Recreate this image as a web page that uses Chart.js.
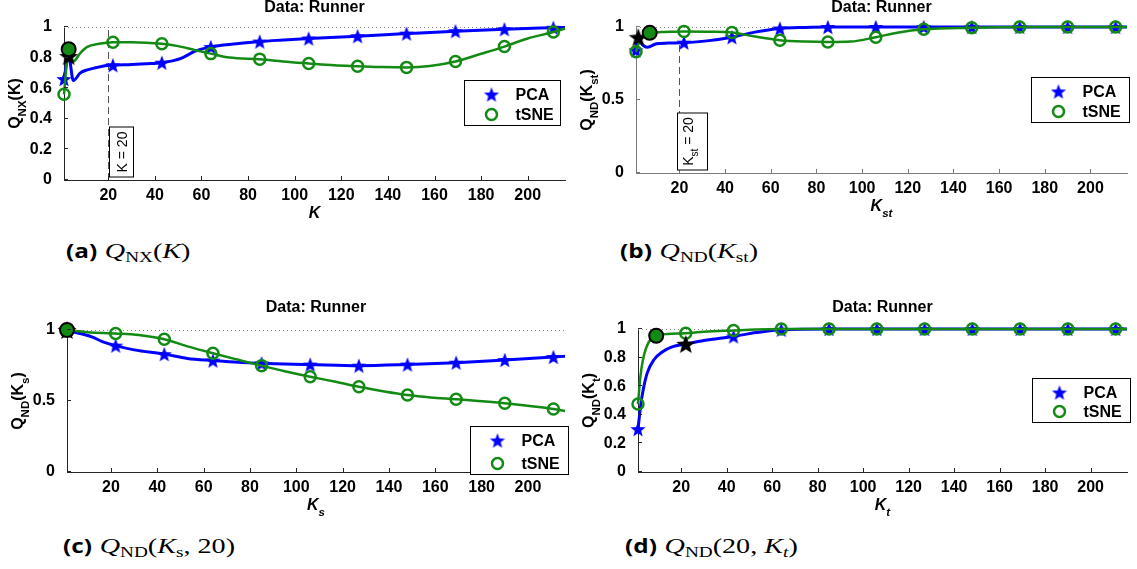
<!DOCTYPE html>
<html>
<head>
<meta charset="utf-8">
<script src="https://cdn.jsdelivr.net/npm/chart.js@4.4.1/dist/chart.umd.min.js"></script>
<style>
  body { margin: 0; width: 1137px; height: 569px; background: #fff; position: relative; overflow: hidden; }
  .panel { position: absolute; }
  .cap { position: absolute; font-family: 'Liberation Serif', serif; font-size: 22px; white-space: nowrap; color: #000;
         transform: scaleX(1.28); transform-origin: left center; }
  .cap b { font-family: 'Open Sans', 'DejaVu Sans', sans-serif; font-weight: 700; font-size: 19px; margin-right: 6px; }
  .cap sub { font-size: 15px; vertical-align: -4px; }
</style>
</head>
<body>
<div class="panel" style="left:0;top:0;width:575px;height:225px"><canvas id="ca"></canvas></div>
<div class="panel" style="left:575px;top:0;width:562px;height:225px"><canvas id="cb"></canvas></div>
<div class="panel" style="left:0;top:300px;width:575px;height:225px"><canvas id="cc"></canvas></div>
<div class="panel" style="left:575px;top:300px;width:562px;height:225px"><canvas id="cd"></canvas></div>

<div class="cap" style="left:66px;top:238px"><b>(a)</b><i>Q</i><sub>NX</sub>(<i>K</i>)</div>
<div class="cap" style="left:620px;top:238px"><b>(b)</b><i>Q</i><sub>ND</sub>(<i>K</i><sub>st</sub>)</div>
<div class="cap" style="left:63px;top:533px"><b>(c)</b><i>Q</i><sub>ND</sub>(<i>K</i><sub>s</sub>, 20)</div>
<div class="cap" style="left:625px;top:533px"><b>(d)</b><i>Q</i><sub>ND</sub>(20, <i>K<sub>t</sub></i>)</div>

<script>
// ─── Data ─────────────────────────────────────────────

const MARK_K   = [1, 22, 43, 64, 85, 106, 127, 148, 169, 190, 211];
const X_TICKS  = [20, 40, 60, 80, 100, 120, 140, 160, 180, 200];
const Y_FINE   = [0, 0.2, 0.4, 0.6, 0.8, 1];
const Y_HALF   = [0, 0.5, 1];
const K_RANGE  = [1, 216];

// (a) Q_NX(K)
const A_PCA_K  = [1, 3, 5, 8, 11, 15, 18, 22, 30, 36, 43, 48, 52, 57, 64, 75, 85, 95, 106, 127, 148, 169, 190, 211, 216];
const A_PCA_Q  = [0.66, 0.81, 0.65, 0.70, 0.72, 0.735, 0.745, 0.75, 0.755, 0.76, 0.767, 0.78, 0.80, 0.84, 0.87, 0.89, 0.905, 0.915, 0.925, 0.94, 0.957, 0.973, 0.986, 0.995, 0.997];
const A_TSNE_K = [1, 3, 5, 8, 11, 16, 22, 30, 43, 50, 57, 64, 72, 85, 95, 106, 117, 127, 138, 148, 158, 169, 180, 190, 200, 211, 216];
const A_TSNE_Q = [0.56, 0.855, 0.775, 0.83, 0.87, 0.89, 0.90, 0.90, 0.89, 0.875, 0.85, 0.826, 0.80, 0.79, 0.775, 0.762, 0.75, 0.744, 0.738, 0.736, 0.745, 0.775, 0.825, 0.872, 0.925, 0.967, 0.99];
const A_BEST_PCA  = [3, 0.81];
const A_BEST_TSNE = [3, 0.855];

// (b) Q_ND(K_st)
const B_PCA_K  = [1, 2, 3, 6, 10, 15, 22, 32, 43, 53, 64, 75, 85, 106, 127, 148, 169, 190, 211, 216];
const B_PCA_Q  = [0.84, 0.93, 0.895, 0.862, 0.885, 0.89, 0.893, 0.905, 0.93, 0.965, 0.99, 0.997, 1, 1, 1, 1, 1, 1, 1, 1];
const B_TSNE_K = [1, 2, 4, 7, 12, 22, 32, 43, 53, 64, 75, 85, 95, 106, 116, 127, 148, 169, 190, 211, 216];
const B_TSNE_Q = [0.83, 0.88, 0.93, 0.96, 0.965, 0.97, 0.968, 0.962, 0.935, 0.91, 0.90, 0.897, 0.90, 0.93, 0.963, 0.984, 0.995, 1, 1, 1, 1];
const B_BEST_PCA  = [2, 0.93];
const B_BEST_TSNE = [7, 0.96];

// (c) Q_ND(K_s, 20)
const C_PCA_K  = [1, 4, 8, 12, 16, 22, 30, 43, 53, 64, 75, 85, 106, 127, 148, 169, 190, 211, 216];
const C_PCA_Q  = [1.0, 0.985, 0.97, 0.95, 0.92, 0.89, 0.86, 0.83, 0.80, 0.785, 0.772, 0.765, 0.757, 0.749, 0.757, 0.77, 0.789, 0.81, 0.815];
const C_TSNE_K = [1, 10, 22, 32, 43, 53, 64, 75, 85, 95, 106, 117, 127, 138, 148, 158, 169, 190, 211, 216];
const C_TSNE_Q = [1.0, 0.985, 0.976, 0.965, 0.935, 0.885, 0.836, 0.79, 0.749, 0.71, 0.671, 0.635, 0.60, 0.567, 0.542, 0.525, 0.512, 0.484, 0.444, 0.43];
const C_BEST_PCA  = [1, 1.0];
const C_BEST_TSNE = [1, 1.0];

// (d) Q_ND(20, K_t)
const D_PCA_K  = [1, 2, 3, 5, 8, 12, 16, 22, 30, 43, 53, 64, 85, 106, 127, 148, 169, 190, 211, 216];
const D_PCA_Q  = [0.30, 0.44, 0.55, 0.69, 0.785, 0.843, 0.875, 0.895, 0.92, 0.948, 0.975, 0.995, 1, 1, 1, 1, 1, 1, 1, 1];
const D_TSNE_K = [1, 2, 3, 5, 9, 14, 22, 30, 43, 53, 64, 85, 106, 127, 148, 169, 190, 211, 216];
const D_TSNE_Q = [0.475, 0.66, 0.77, 0.885, 0.953, 0.965, 0.97, 0.98, 0.99, 0.997, 1, 1, 1, 1, 1, 1, 1, 1, 1];
const D_BEST_PCA  = [22, 0.895];
const D_BEST_TSNE = [9, 0.953];

// ─── Styles ───────────────────────────────────────────

const BLUE  = '#0000ff';
const GREEN = '#138a13';
const FONT  = "'Liberation Sans', Arial, Helvetica, sans-serif";

function starImage(color, r) {
  const c = document.createElement('canvas');
  const s = Math.ceil(r * 2 + 2);
  c.width = c.height = s;
  const g = c.getContext('2d');
  g.translate(s / 2, s / 2 + r * 0.1);
  g.beginPath();
  for (let i = 0; i < 10; i++) {
    const rad = i % 2 ? r * 0.42 : r;
    const a = -Math.PI / 2 + i * Math.PI / 5;
    g.lineTo(rad * Math.cos(a), rad * Math.sin(a));
  }
  g.closePath();
  g.fillStyle = color;
  g.fill();
  return c;
}
const STAR_BLUE  = starImage(BLUE, 8);
const STAR_BLACK = starImage('#000', 10);

const pts = (ks, qs) => ks.map((k, i) => ({ x: k, y: qs[i] }));

// ─── Rich text (subscripts) ───────────────────────────

function drawRich(ctx, parts, x, y, size, style) {
  const f = s => `${style} ${s}px ${FONT}`;
  let w = 0;
  parts.forEach(([t, sub]) => { ctx.font = f(sub ? size * 0.72 : size); w += ctx.measureText(t).width; });
  let cx = x - w / 2;
  parts.forEach(([t, sub]) => {
    ctx.font = f(sub ? size * 0.72 : size);
    ctx.fillText(t, cx, y + (sub ? size * 0.36 : 0));
    cx += ctx.measureText(t).width;
  });
}

// ─── Decoration plugin ────────────────────────────────

const decor = {
  id: 'decor',
  beforeDatasetsDraw(chart, args, o) {
    const { ctx, chartArea: a, scales: { x, y } } = chart;
    ctx.save();
    ctx.strokeStyle = '#8a8a8a';
    ctx.lineWidth = 1;
    ctx.setLineDash([1, 3]);
    const y1 = Math.round(y.getPixelForValue(1)) + 0.5;
    ctx.beginPath(); ctx.moveTo(a.left, y1); ctx.lineTo(a.right, y1); ctx.stroke();
    if (o.ref) {
      const px = Math.round(x.getPixelForValue(o.ref.k)) + 0.5;
      ctx.strokeStyle = '#555';
      ctx.setLineDash([7, 4]);
      ctx.beginPath();
      ctx.moveTo(px, y.getPixelForValue(0));
      ctx.lineTo(px, y.getPixelForValue(o.ref.top));
      ctx.stroke();
    }
    ctx.restore();
  },
  afterDraw(chart, args, o) {
    const { ctx, chartArea: a, scales: { x, y } } = chart;
    ctx.save();
    // inward tick marks
    ctx.strokeStyle = o.axisColor;
    ctx.lineWidth = 1;
    ctx.beginPath();
    x.ticks.forEach(t => {
      const px = Math.round(x.getPixelForValue(t.value)) + 0.5;
      ctx.moveTo(px, a.bottom); ctx.lineTo(px, a.bottom - 4);
    });
    y.ticks.forEach(t => {
      const py = Math.round(y.getPixelForValue(t.value)) - 0.5;
      ctx.moveTo(a.left, py); ctx.lineTo(a.left + 4, py);
    });
    ctx.stroke();

    ctx.fillStyle = '#000';
    ctx.textAlign = 'left';
    ctx.textBaseline = 'alphabetic';
    // x title
    drawRich(ctx, o.xLabel, (a.left + a.right) / 2, a.bottom + 38, 16, 'italic bold');
    // y title
    ctx.save();
    ctx.translate(a.left - 44, (a.top + a.bottom) / 2);
    ctx.rotate(-Math.PI / 2);
    drawRich(ctx, o.yLabel, 0, 0, 16, 'bold');
    ctx.restore();

    // K = 20 box
    if (o.ref) {
      const bx = Math.round(x.getPixelForValue(o.ref.k)) + 0.5 + o.ref.dx;
      const bb = a.bottom - 3;
      ctx.fillStyle = '#fff';
      ctx.strokeStyle = '#000';
      ctx.fillRect(bx, bb - o.ref.h, o.ref.w, o.ref.h);
      ctx.strokeRect(bx, bb - o.ref.h, o.ref.w, o.ref.h);
      ctx.save();
      ctx.translate(bx + o.ref.base, bb - o.ref.h / 2);
      ctx.rotate(-Math.PI / 2);
      ctx.fillStyle = '#000';
      drawRich(ctx, o.ref.text, 0, 0, 14, 'normal');
      ctx.restore();
    }

    // legend
    const L = o.legend;
    const lx = Math.round(a.right + L.dx - L.w) + 0.5;
    const ly = Math.round(a.top + L.dy) + 0.5;
    ctx.fillStyle = '#fff';
    ctx.fillRect(lx, ly, L.w, L.h);
    ctx.strokeStyle = '#000';
    ctx.lineWidth = 1;
    ctx.strokeRect(lx, ly, L.w, L.h);
    const r1 = ly + 14, r2 = ly + L.h - 11;
    ctx.drawImage(STAR_BLUE, lx + 27 - STAR_BLUE.width / 2, r1 - STAR_BLUE.height / 2);
    ctx.beginPath();
    ctx.arc(lx + 27, r2, 5.5, 0, Math.PI * 2);
    ctx.strokeStyle = GREEN;
    ctx.lineWidth = 2.5;
    ctx.stroke();
    ctx.fillStyle = '#000';
    ctx.font = `bold 16px ${FONT}`;
    ctx.textBaseline = 'middle';
    ctx.fillText('PCA', lx + 51, r1 + 1);
    ctx.fillText('tSNE', lx + 51, r2 + 1);
    ctx.restore();
  }
};

// ─── Panel builder ────────────────────────────────────

function panel(id, cfg) {
  const tickFont = { family: FONT, size: 16, weight: 'bold', lineHeight: 1 };
  new Chart(document.getElementById(id), {
    type: 'line',
    data: {
      datasets: [
        { data: [{ x: cfg.bestTsne[0], y: cfg.bestTsne[1] }], showLine: false, pointStyle: 'circle',
          pointRadius: 7, pointBorderWidth: 2, pointBorderColor: '#000', pointBackgroundColor: GREEN, clip: false },
        { data: [{ x: cfg.bestPca[0], y: cfg.bestPca[1] }], showLine: false, pointStyle: STAR_BLACK,
          pointRadius: 9, clip: false },
        { data: pts(cfg.tsneK, cfg.tsneQ), borderColor: GREEN, borderWidth: 2.5,
          cubicInterpolationMode: 'monotone', pointStyle: 'circle',
          pointRadius: c => MARK_K.includes(c.raw.x) ? 5.5 : 0,
          pointBorderWidth: 2.5, pointBorderColor: GREEN, pointBackgroundColor: 'rgba(0,0,0,0)', clip: false },
        { data: pts(cfg.pcaK, cfg.pcaQ), borderColor: BLUE, borderWidth: 3,
          cubicInterpolationMode: 'monotone', pointStyle: STAR_BLUE,
          pointRadius: c => MARK_K.includes(c.raw.x) ? 7 : 0, clip: false },
      ],
    },
    options: {
      responsive: true,
      maintainAspectRatio: false,
      animation: false,
      events: [],
      layout: { padding: { left: 0, right: cfg.padR, top: 0, bottom: 0 } },
      scales: {
        x: {
          type: 'linear', min: K_RANGE[0], max: K_RANGE[1],
          afterBuildTicks: s => { s.ticks = X_TICKS.map(v => ({ value: v })); },
          afterFit: s => { s.height = cfg.xH; },
          grid: { display: false },
          border: { display: true, color: cfg.axisColor, width: 1 },
          ticks: { font: tickFont, color: '#000', padding: 0, maxRotation: 0, autoSkip: false },
        },
        y: {
          type: 'linear', min: 0, max: 1,
          afterBuildTicks: s => { s.ticks = cfg.yTicks.map(v => ({ value: v })); },
          afterFit: s => { s.width = cfg.yW; },
          grid: { display: false },
          border: { display: true, color: cfg.axisColor, width: 1 },
          ticks: { font: tickFont, color: '#000', padding: 4, callback: v => String(v) },
        },
      },
      plugins: {
        legend: { display: false },
        tooltip: { enabled: false },
        title: {
          display: true, text: 'Data: Runner', fullSize: false, color: '#000',
          font: { family: FONT, size: 16, weight: 'bold', lineHeight: 1 },
          padding: { top: 0, bottom: cfg.titlePad },
        },
        decor: {
          axisColor: cfg.axisColor, xLabel: cfg.xLabel, yLabel: cfg.yLabel,
          legend: cfg.legend, ref: cfg.ref,
        },
      },
    },
    plugins: [decor],
  });
}

panel('ca', {
  pcaK: A_PCA_K, pcaQ: A_PCA_Q, tsneK: A_TSNE_K, tsneQ: A_TSNE_Q,
  bestPca: A_BEST_PCA, bestTsne: A_BEST_TSNE, yTicks: Y_FINE,
  yW: 64, padR: 8, xH: 45, titlePad: 11, axisColor: '#262626',
  xLabel: [['K']], yLabel: [['Q'], ['NX', 1], ['(K)']],
  legend: { dx: -5, dy: 53, w: 96, h: 45 },
  ref: { k: 20, top: 1, dx: 1, w: 24, h: 50, base: 17, text: [['K = 20']] },
});
panel('cb', {
  pcaK: B_PCA_K, pcaQ: B_PCA_Q, tsneK: B_TSNE_K, tsneQ: B_TSNE_Q,
  bestPca: B_BEST_PCA, bestTsne: B_BEST_TSNE, yTicks: Y_HALF,
  yW: 61, padR: 3, xH: 52, titlePad: 11, axisColor: '#7a7a7a',
  xLabel: [['K'], ['st', 1]], yLabel: [['Q'], ['ND', 1], ['(K'], ['st', 1], [')']],
  legend: { dx: 2, dy: 50, w: 98, h: 45 },
  ref: { k: 20, top: 0.89, dx: -2, w: 30, h: 57, base: 15, text: [['K'], ['st', 1], [' = 20']] },
});
panel('cc', {
  pcaK: C_PCA_K, pcaQ: C_PCA_Q, tsneK: C_TSNE_K, tsneQ: C_TSNE_Q,
  bestPca: C_BEST_PCA, bestTsne: C_BEST_TSNE, yTicks: Y_HALF,
  yW: 67, padR: 6, xH: 53, titlePad: 14, axisColor: '#262626',
  xLabel: [['K'], ['s', 1]], yLabel: [['Q'], ['ND', 1], ['(K'], ['s', 1], [')']],
  legend: { dx: 3, dy: 96, w: 98, h: 48 },
});
panel('cd', {
  pcaK: D_PCA_K, pcaQ: D_PCA_Q, tsneK: D_TSNE_K, tsneQ: D_TSNE_Q,
  bestPca: D_BEST_PCA, bestTsne: D_BEST_TSNE, yTicks: Y_FINE,
  yW: 63, padR: 3, xH: 53, titlePad: 13, axisColor: '#262626',
  xLabel: [['K'], ['t', 1]], yLabel: [['Q'], ['ND', 1], ['(K'], ['t', 1], [')']],
  legend: { dx: 3, dy: 49, w: 98, h: 44 },
});
</script>
</body>
</html>
